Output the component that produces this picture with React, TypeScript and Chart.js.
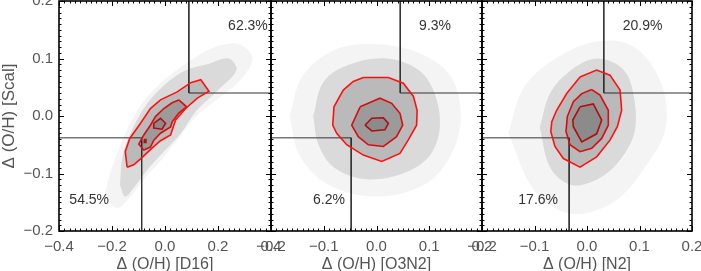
import React, { useEffect, useRef } from "react";
import { Chart, registerables } from "chart.js";

Chart.register(...registerables);

type P = [number, number];

// ---------- Panel 1: D16 vs Scal ----------
const p1Faint: P[] = [
  [-0.23, -0.14], [-0.2, -0.09], [-0.15, -0.03], [-0.09, 0.02], [-0.01, 0.06], [0.09, 0.095],
  [0.19, 0.12], [0.28, 0.125], [0.33, 0.1], [0.28, 0.06], [0.2, 0.03], [0.12, 0.0],
  [0.05, -0.04], [-0.02, -0.08], [-0.08, -0.11], [-0.13, -0.14], [-0.18, -0.16],
];
const p1Mid: P[] = [
  [-0.17, -0.12], [-0.16, -0.07], [-0.12, -0.02], [-0.07, 0.02], [0.0, 0.055], [0.08, 0.08],
  [0.16, 0.09], [0.24, 0.1], [0.27, 0.08], [0.2, 0.045], [0.12, 0.01], [0.06, -0.03],
  [0.0, -0.06], [-0.06, -0.09], [-0.11, -0.12], [-0.15, -0.14],
];
const p1Outer: P[] = [
  [-0.143, -0.089], [-0.15, -0.062], [-0.133, -0.039], [-0.093, -0.013], [-0.055, 0.013],
  [-0.017, 0.028], [0.046, 0.042], [0.097, 0.058], [0.135, 0.063], [0.166, 0.043],
  [0.122, 0.031], [0.078, 0.013], [0.04, -0.007], [0.021, -0.033], [-0.017, -0.043],
  [-0.049, -0.056], [-0.086, -0.072], [-0.118, -0.085],
];
const p1Middle: P[] = [
  [0.052, 0.028], [0.0815, 0.016], [0.052, 0.005], [0.027, -0.01], [0.021, -0.019],
  [-0.017, -0.03], [-0.042, -0.042], [-0.055, -0.054], [-0.08, -0.059], [-0.099, -0.049],
  [-0.08, -0.033], [-0.055, -0.016], [-0.036, -0.001], [-0.0045, 0.013], [0.027, 0.023],
];
const p1Inner: P[] = [
  [-0.0425, -0.0127], [-0.017, -0.004], [0.002, -0.0127], [-0.011, -0.023], [-0.045, -0.021],
];
const p1Spot: P[] = [[-0.078, -0.041], [-0.072, -0.041], [-0.072, -0.046], [-0.078, -0.046]];
const p1Cuts = [-0.088, -0.038, 0.09, 0.04]; // xLo, yLo, xHi, yHi
const p1Pct = ["62.3%", "54.5%"];

// ---------- Panel 2: O3N2 vs Scal ----------
const p2Faint: P[] = [
  [-0.165, 0.0], [-0.14, 0.07], [-0.08, 0.115], [0.0, 0.125], [0.08, 0.11], [0.14, 0.07],
  [0.16, 0.0], [0.14, -0.07], [0.09, -0.12], [0.0, -0.14], [-0.09, -0.12], [-0.145, -0.07],
];
const p2Mid: P[] = [
  [-0.12, 0.0], [-0.1, 0.06], [-0.05, 0.09], [0.02, 0.1], [0.08, 0.08], [0.11, 0.04],
  [0.12, -0.02], [0.1, -0.07], [0.05, -0.1], [-0.02, -0.11], [-0.08, -0.09], [-0.11, -0.05],
];
const p2Outer: P[] = [
  [-0.025, 0.067], [0.0224, 0.067], [0.0508, 0.057], [0.07, 0.034], [0.077, 0.01],
  [0.076, -0.016], [0.06, -0.042], [0.0445, -0.065], [0.0099, -0.079], [-0.025, -0.068],
  [-0.0565, -0.05], [-0.0755, -0.03], [-0.083, -0.016], [-0.0806, 0.016], [-0.063, 0.045],
  [-0.044, 0.06],
];
const p2Middle: P[] = [
  [-0.031, 0.016], [0.0066, 0.031], [0.0288, 0.022], [0.0445, 0.0047], [0.0497, -0.016],
  [0.038, -0.036], [0.013, -0.053], [-0.0155, -0.05], [-0.0345, -0.036], [-0.047, -0.016],
];
const p2Inner: P[] = [
  [-0.0218, -0.016], [-0.009, -0.004], [0.013, -0.003], [0.0224, -0.013], [0.016, -0.024],
  [-0.009, -0.026],
];
const p2Cuts = [-0.048, -0.038, 0.045, 0.04];
const p2Pct = ["9.3%", "6.2%"];

// ---------- Panel 3: N2 vs Scal ----------
const p3Faint: P[] = [
  [-0.15, -0.03], [-0.12, 0.05], [-0.06, 0.1], [0.02, 0.13], [0.09, 0.12], [0.14, 0.06],
  [0.15, -0.02], [0.11, -0.09], [0.05, -0.15], [-0.03, -0.17], [-0.1, -0.13],
];
const p3Mid: P[] = [
  [-0.09, -0.02], [-0.07, 0.04], [-0.03, 0.08], [0.02, 0.1], [0.07, 0.08], [0.09, 0.03],
  [0.09, -0.03], [0.06, -0.08], [0.02, -0.11], [-0.03, -0.12], [-0.07, -0.09],
];
const p3Outer: P[] = [
  [-0.0133, 0.068], [0.0184, 0.08], [0.0438, 0.071], [0.0629, 0.045], [0.066, 0.01],
  [0.0578, -0.0186], [0.0438, -0.042], [0.0184, -0.071], [-0.0133, -0.089], [-0.045, -0.074],
  [-0.061, -0.053], [-0.069, -0.027], [-0.067, -0.0099], [-0.0578, 0.01], [-0.0387, 0.039],
];
const p3Middle: P[] = [
  [0.009, 0.046], [0.0248, 0.0365], [0.0406, 0.01], [0.0406, -0.016], [0.028, -0.039],
  [0.009, -0.056], [-0.0133, -0.062], [-0.0324, -0.05], [-0.04, -0.027], [-0.0375, -0.001],
  [-0.026, 0.025], [-0.01, 0.039],
];
const p3Inner: P[] = [
  [-0.0133, 0.016], [0.012, 0.021], [0.028, -0.007], [0.0184, -0.031], [-0.01, -0.045],
  [-0.026, -0.0186], [-0.027, -0.007],
];
const p3Cuts = [-0.034, -0.038, 0.032, 0.04];
const p3Pct = ["20.9%", "17.6%"];

const yTitle = "Δ (O/H) [Scal]";
const xTitles = ["Δ (O/H) [D16]", "Δ (O/H) [O3N2]", "Δ (O/H) [N2]"];

// ---------- layout / styles ----------
const W = 701;
const H = 271;
const FONT = '"Liberation Sans", Arial, Helvetica, sans-serif';
const TEXT = "#555";
const RED = "#ff1010";

interface Panel {
  xMin: number; xMax: number; xStep: number;
  left: number; right: number; showY: boolean; xTitle: string;
  faint: P[]; mid: P[]; outer: P[]; middle: P[]; inner: P[]; extra?: P[];
  cuts: number[]; pct: string[]; pctHiAt: P; pctLoAt: P;
}

const panels: Panel[] = [
  { xMin: -0.4, xMax: 0.4, xStep: 0.2, left: 59, right: 271, showY: true, xTitle: xTitles[0],
    faint: p1Faint, mid: p1Mid, outer: p1Outer, middle: p1Middle, inner: p1Inner, extra: p1Spot,
    cuts: p1Cuts, pct: p1Pct, pctHiAt: [0.313, 0.157], pctLoAt: [-0.286, -0.146] },
  { xMin: -0.2, xMax: 0.2, xStep: 0.1, left: 271, right: 482, showY: false, xTitle: xTitles[1],
    faint: p2Faint, mid: p2Mid, outer: p2Outer, middle: p2Middle, inner: p2Inner,
    cuts: p2Cuts, pct: p2Pct, pctHiAt: [0.111, 0.157], pctLoAt: [-0.09, -0.146] },
  { xMin: -0.2, xMax: 0.2, xStep: 0.1, left: 482, right: 692, showY: false, xTitle: xTitles[2],
    faint: p3Faint, mid: p3Mid, outer: p3Outer, middle: p3Middle, inner: p3Inner,
    cuts: p3Cuts, pct: p3Pct, pctHiAt: [0.106, 0.157], pctLoAt: [-0.093, -0.146] },
];

const fmt = (v: number) => {
  if (Math.abs(v) < 1e-9) return "0.0";
  return (v < 0 ? "\u2212" : "") + Math.abs(v).toFixed(1);
};

const closed = (pts: P[]) => [...pts, pts[0]].map(([x, y]) => ({ x, y }));

const framePlugin = {
  id: "frame",
  afterDraw(chart: any, _a: any, opts: any) {
    const { ctx, chartArea: a, scales } = chart;
    const x = scales.x;
    const y = scales.y;
    ctx.save();
    // percentage labels
    ctx.fillStyle = "#333";
    ctx.font = `14px ${FONT}`;
    ctx.textAlign = "center";
    ctx.textBaseline = "middle";
    (opts.labels || []).forEach((l: any) => {
      ctx.fillText(l.text, x.getPixelForValue(l.at[0]), y.getPixelForValue(l.at[1]));
    });
    // ticks
    ctx.strokeStyle = "#000";
    ctx.lineWidth = 1;
    const seg = (x1: number, y1: number, x2: number, y2: number) => {
      ctx.beginPath(); ctx.moveTo(x1, y1); ctx.lineTo(x2, y2); ctx.stroke();
    };
    const axisTicks = (sc: any, step: number, horiz: boolean) => {
      const minor = step / 10;
      const n = Math.round((sc.max - sc.min) / minor);
      for (let k = 0; k <= n; k++) {
        const v = sc.min + k * minor;
        const len = k % 10 === 0 ? 5 : 2.5;
        const p = Math.round(sc.getPixelForValue(v)) + 0.5;
        if (horiz) {
          seg(p, a.bottom, p, a.bottom - len);
          seg(p, a.top, p, a.top + len);
        } else {
          seg(a.left, p, a.left + len, p);
          seg(a.right, p, a.right - len, p);
        }
      }
    };
    axisTicks(x, opts.xStep, true);
    axisTicks(y, 0.1, false);
    // frame
    ctx.lineWidth = 1.6;
    ctx.strokeRect(a.left, a.top, a.right - a.left, a.bottom - a.top);
    ctx.restore();
  },
};

function makeConfig(p: Panel): any {
  const [xLo, yLo, xHi, yHi] = p.cuts;
  const cloud = (pts: P[], c: string) => ({
    data: closed(pts), borderWidth: 0, borderColor: "rgba(0,0,0,0)", backgroundColor: c,
    fill: "shape", pointRadius: 0, order: 10, tension: 0.35,
  });
  const contour = (pts: P[], fillC: string) => ({
    data: closed(pts), borderColor: RED, borderWidth: 1.6, backgroundColor: fillC,
    fill: "shape", pointRadius: 0, order: 2,
  });
  const datasets: any[] = [
    cloud(p.faint, "rgba(0,0,0,0.045)"),
    cloud(p.mid, "rgba(0,0,0,0.11)"),
    contour(p.outer, "rgba(0,0,0,0.15)"),
    contour(p.middle, "rgba(0,0,0,0.17)"),
    contour(p.inner, "rgba(0,0,0,0.10)"),
  ];
  if (p.extra) datasets.push(contour(p.extra, "rgba(255,0,0,0.8)"));
  const cutLine = (pts: P[]) => ({
    data: pts.map(([x, y]) => ({ x, y })), borderColor: "#333", borderWidth: 1,
    pointRadius: 0, fill: false, order: 5,
  });
  datasets.push(cutLine([[xHi, 0.2], [xHi, yHi], [p.xMax, yHi]]));
  datasets.push(cutLine([[p.xMin, yLo], [xLo, yLo], [xLo, -0.2]]));

  return {
    type: "line",
    data: { datasets },
    options: {
      responsive: false,
      animation: false,
      devicePixelRatio: 1,
      events: [],
      layout: { padding: { left: p.showY ? 0 : p.left, right: W - p.right, top: 1, bottom: 0 } },
      plugins: {
        legend: { display: false },
        tooltip: { enabled: false },
        frame: {
          xStep: p.xStep,
          labels: [
            { text: p.pct[0], at: p.pctHiAt },
            { text: p.pct[1], at: p.pctLoAt },
          ],
        },
      },
      scales: {
        x: {
          type: "linear", min: p.xMin, max: p.xMax,
          grid: { display: false, drawTicks: false },
          border: { display: false },
          ticks: {
            stepSize: p.xStep, autoSkip: false, maxRotation: 0, padding: 7,
            color: TEXT, font: { family: FONT, size: 15 }, callback: (v: number) => fmt(v),
          },
          title: {
            display: true, text: p.xTitle, color: TEXT,
            font: { family: FONT, size: 16, lineHeight: 1 }, padding: { top: 0, bottom: -2 },
          },
          afterFit: (s: any) => { s.height = 40; s.paddingLeft = 0; s.paddingRight = 0; },
        },
        y: {
          type: "linear", min: -0.2, max: 0.2, display: p.showY,
          grid: { display: false, drawTicks: false },
          border: { display: false },
          ticks: {
            stepSize: 0.1, autoSkip: false, padding: 6,
            color: TEXT, font: { family: FONT, size: 15 }, callback: (v: number) => fmt(v),
          },
          title: {
            display: true, text: yTitle, color: TEXT,
            font: { family: FONT, size: 17, lineHeight: 1 }, padding: { top: 1, bottom: 0 },
          },
          afterFit: (s: any) => {
            s.width = p.showY ? 59 : 0;
            s.paddingTop = 0;
            s.paddingBottom = 0;
          },
        },
      },
    },
    plugins: [framePlugin],
  };
}

function PanelCanvas({ panel }: { panel: Panel }) {
  const ref = useRef<HTMLCanvasElement | null>(null);
  useEffect(() => {
    if (!ref.current) return;
    const chart = new Chart(ref.current, makeConfig(panel));
    return () => chart.destroy();
  }, [panel]);
  return (
    <canvas
      ref={ref}
      width={W}
      height={H}
      style={{ position: "absolute", left: 0, top: 0, width: W, height: H, display: "block" }}
    />
  );
}

export default function App() {
  return (
    <div style={{ position: "fixed", left: 0, top: 0, width: W, height: H, background: "#fff" }}>
      {panels.map((p, i) => (
        <PanelCanvas key={i} panel={p} />
      ))}
    </div>
  );
}
